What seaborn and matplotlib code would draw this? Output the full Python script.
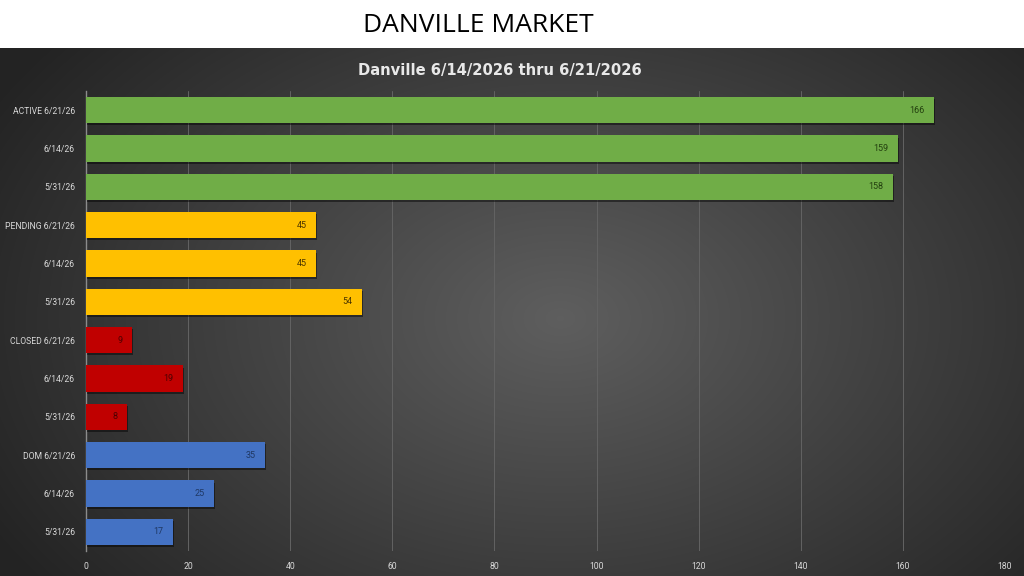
import numpy as np
import pandas as pd
import matplotlib
matplotlib.use('Agg')
import matplotlib.pyplot as plt
import matplotlib.patheffects as pe
import seaborn as sns

# chart data
groups = ['ACTIVE', 'PENDING', 'CLOSED', 'DOM']
dates = ['6/21/26', '6/14/26', '5/31/26']
active = [166, 159, 158]
pending = [45, 45, 54]
closed = [9, 19, 8]
dom = [35, 25, 17]
x_ticks = [0, 20, 40, 60, 80, 100, 120, 140, 160, 180]

colors = {'ACTIVE': '#70AD47', 'PENDING': '#FFC000',
          'CLOSED': '#C00000', 'DOM': '#4472C4'}
label_colors = {'ACTIVE': '#23400f', 'PENDING': '#4a3500',
                'CLOSED': '#4d0000', 'DOM': '#1f3864'}

rows = []
for g, vals in zip(groups, [active, pending, closed, dom]):
    for d, v in zip(dates, vals):
        rows.append({'key': g + ' ' + d, 'group': g, 'date': d, 'value': v})
df = pd.DataFrame(rows)
tick_labels = [r['key'] if r['date'] == dates[0] else r['date'] for r in rows]

sns.set_theme(style='dark')
plt.rcParams['font.family'] = ['Roboto', 'DejaVu Sans']

fig = plt.figure(figsize=(10.24, 5.76), dpi=100, facecolor='white')

# dark radial background for the chart area
bg = fig.add_axes([0, 0, 1, 1 - 48 / 576])
yy, xx = np.mgrid[0:528, 0:1024]
r = np.sqrt(((xx - 560) / 620.0) ** 2 + ((yy - 270) / 420.0) ** 2)
shade = np.clip(0.37 - 0.22 * r, 0.14, 0.37)
rgb = np.dstack([shade, shade, shade])
bg.imshow(rgb, aspect='auto', interpolation='bilinear')
bg.set_axis_off()

fig.text(0.467, 0.955, 'DANVILLE MARKET', ha='center', va='center',
         fontsize=19, color='black', family=['Open Sans', 'DejaVu Sans'])

ax = fig.add_axes([86 / 1024, 1 - 551 / 576, (1005 - 86) / 1024, (551 - 91) / 576])
ax.set_facecolor('none')

sns.barplot(data=df, y='key', x='value', hue='group', palette=colors,
            dodge=False, width=0.68, legend=False, ax=ax, zorder=3,
            saturation=1)

shadow = [pe.SimplePatchShadow(offset=(1, -1.5), shadow_rgbFace='black', alpha=0.45),
          pe.Normal()]
for patch in ax.patches:
    patch.set_path_effects(shadow)
    patch.set_edgecolor('none')

for i, row in df.iterrows():
    ax.text(row['value'] - 1.8, i, str(row['value']), ha='right', va='center',
            fontsize=6.5, color=label_colors[row['group']], zorder=5)

ax.set_xlim(0, 180)
ax.set_xticks(x_ticks)
ax.set_yticks(range(len(tick_labels)))
ax.set_yticklabels(tick_labels)
ax.tick_params(axis='both', labelsize=6.2, colors='#d9d9d9', length=0, pad=8)
ax.set_xlabel('')
ax.set_ylabel('')
ax.grid(axis='x', color='#636363', linewidth=0.7, zorder=0)
ax.grid(axis='y', visible=False)
for s in ['top', 'right', 'bottom']:
    ax.spines[s].set_visible(False)
ax.spines['left'].set_color('#8c8c8c')
ax.spines['left'].set_linewidth(1)

fig.text(500 / 1024, 1 - 71 / 576, 'Danville 6/14/2026 thru 6/21/2026', ha='center',
         va='center', fontsize=10.6, fontweight='bold', color='#e8e8e8',
         family=['DejaVu Sans'])

fig.savefig('out.png', dpi=100, facecolor='white')
